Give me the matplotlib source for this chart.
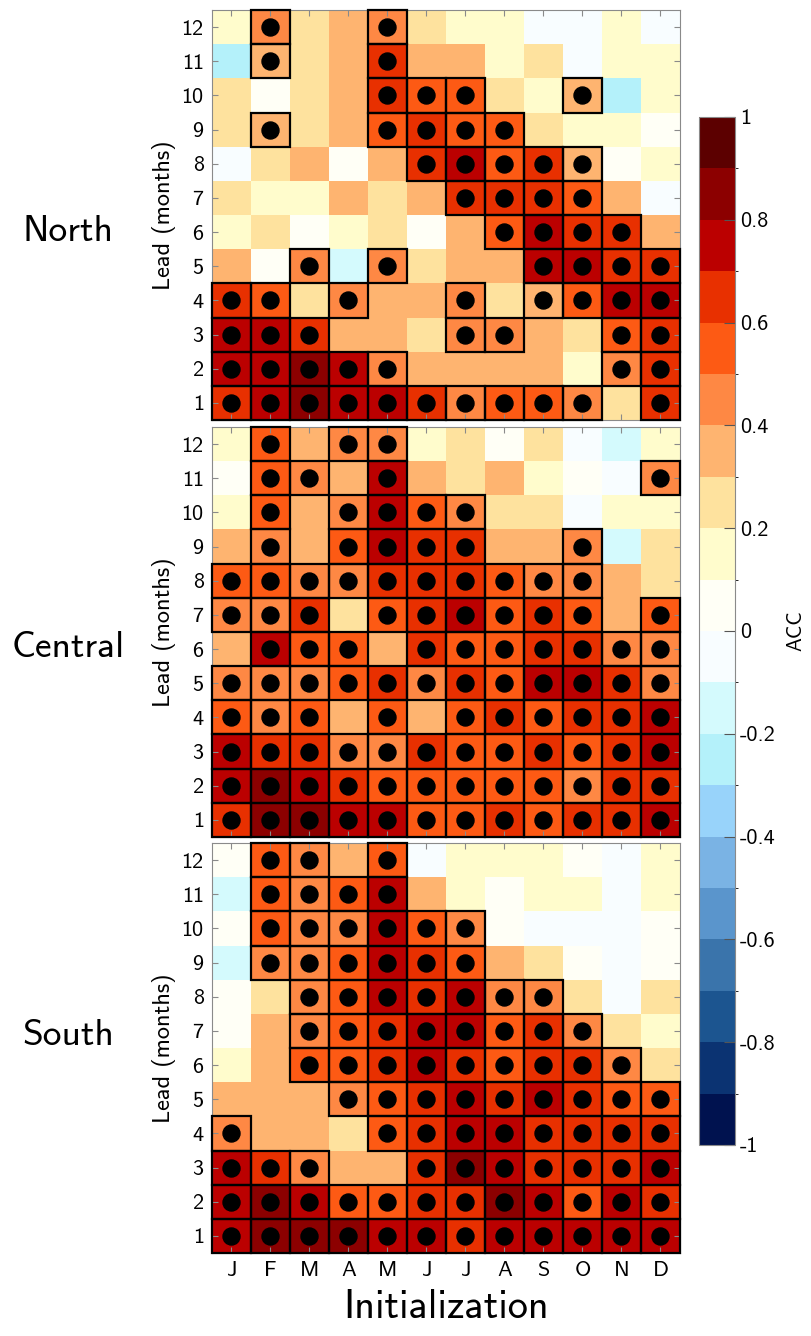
import numpy as np
import matplotlib
matplotlib.use('Agg')
import matplotlib.pyplot as plt
from matplotlib.colors import ListedColormap, BoundaryNorm
from matplotlib.patches import Rectangle

plt.rcParams['font.family'] = ['cmss10', 'DejaVu Sans']
plt.rcParams['axes.unicode_minus'] = False

months = ['J', 'F', 'M', 'A', 'M', 'J', 'J', 'A', 'S', 'O', 'N', 'D']
leads = list(range(1, 13))
regions = ['North', 'Central', 'South']

# ACC values, rows listed from lead 12 (top) down to lead 1
north_acc = [
    [0.15, 0.45, 0.25, 0.35, 0.45, 0.25, 0.15, 0.15, -0.05, -0.05, 0.15, -0.05],
    [-0.25, 0.35, 0.25, 0.35, 0.65, 0.35, 0.35, 0.15, 0.25, -0.05, 0.15, 0.15],
    [0.25, 0.05, 0.25, 0.35, 0.65, 0.55, 0.55, 0.25, 0.15, 0.35, -0.25, 0.15],
    [0.25, 0.35, 0.25, 0.35, 0.55, 0.65, 0.55, 0.55, 0.25, 0.15, 0.15, 0.05],
    [-0.05, 0.25, 0.35, 0.05, 0.35, 0.65, 0.75, 0.55, 0.65, 0.35, 0.05, 0.15],
    [0.25, 0.15, 0.15, 0.35, 0.25, 0.35, 0.65, 0.65, 0.65, 0.55, 0.35, -0.05],
    [0.15, 0.25, 0.05, 0.15, 0.25, 0.05, 0.35, 0.55, 0.75, 0.65, 0.65, 0.35],
    [0.35, 0.05, 0.45, -0.15, 0.45, 0.25, 0.35, 0.35, 0.75, 0.75, 0.65, 0.65],
    [0.65, 0.55, 0.25, 0.45, 0.35, 0.35, 0.45, 0.25, 0.35, 0.55, 0.75, 0.75],
    [0.75, 0.75, 0.65, 0.35, 0.35, 0.25, 0.45, 0.45, 0.35, 0.25, 0.55, 0.65],
    [0.75, 0.75, 0.85, 0.75, 0.45, 0.35, 0.35, 0.35, 0.35, 0.15, 0.45, 0.65],
    [0.65, 0.75, 0.85, 0.75, 0.75, 0.65, 0.45, 0.55, 0.55, 0.45, 0.25, 0.65],
]
north_sig = [
    [0, 1, 0, 0, 1, 0, 0, 0, 0, 0, 0, 0],
    [0, 1, 0, 0, 1, 0, 0, 0, 0, 0, 0, 0],
    [0, 0, 0, 0, 1, 1, 1, 0, 0, 1, 0, 0],
    [0, 1, 0, 0, 1, 1, 1, 1, 0, 0, 0, 0],
    [0, 0, 0, 0, 0, 1, 1, 1, 1, 1, 0, 0],
    [0, 0, 0, 0, 0, 0, 1, 1, 1, 1, 0, 0],
    [0, 0, 0, 0, 0, 0, 0, 1, 1, 1, 1, 0],
    [0, 0, 1, 0, 1, 0, 0, 0, 1, 1, 1, 1],
    [1, 1, 0, 1, 0, 0, 1, 0, 1, 1, 1, 1],
    [1, 1, 1, 0, 0, 0, 1, 1, 0, 0, 1, 1],
    [1, 1, 1, 1, 1, 0, 0, 0, 0, 0, 1, 1],
    [1, 1, 1, 1, 1, 1, 1, 1, 1, 1, 0, 1],
]

central_acc = [
    [0.15, 0.55, 0.35, 0.45, 0.45, 0.15, 0.25, 0.05, 0.25, -0.05, -0.15, 0.15],
    [0.05, 0.55, 0.45, 0.35, 0.75, 0.35, 0.25, 0.35, 0.15, 0.05, -0.05, 0.45],
    [0.15, 0.55, 0.35, 0.45, 0.75, 0.55, 0.45, 0.25, 0.25, -0.05, 0.15, 0.15],
    [0.35, 0.45, 0.35, 0.55, 0.75, 0.65, 0.65, 0.35, 0.35, 0.45, -0.15, 0.25],
    [0.55, 0.55, 0.45, 0.45, 0.65, 0.65, 0.65, 0.55, 0.45, 0.45, 0.35, 0.25],
    [0.45, 0.45, 0.65, 0.25, 0.55, 0.65, 0.75, 0.55, 0.65, 0.55, 0.35, 0.55],
    [0.35, 0.75, 0.55, 0.55, 0.35, 0.65, 0.55, 0.55, 0.65, 0.65, 0.45, 0.45],
    [0.45, 0.45, 0.45, 0.55, 0.65, 0.45, 0.65, 0.55, 0.75, 0.75, 0.65, 0.45],
    [0.55, 0.45, 0.55, 0.35, 0.55, 0.35, 0.55, 0.65, 0.55, 0.65, 0.65, 0.75],
    [0.75, 0.65, 0.65, 0.45, 0.45, 0.65, 0.55, 0.55, 0.65, 0.55, 0.65, 0.75],
    [0.75, 0.85, 0.75, 0.65, 0.55, 0.55, 0.55, 0.55, 0.55, 0.45, 0.65, 0.65],
    [0.65, 0.85, 0.85, 0.75, 0.75, 0.55, 0.55, 0.65, 0.55, 0.65, 0.65, 0.75],
]
central_sig = [
    [0, 1, 0, 1, 1, 0, 0, 0, 0, 0, 0, 0],
    [0, 1, 1, 0, 1, 0, 0, 0, 0, 0, 0, 1],
    [0, 1, 0, 1, 1, 1, 1, 0, 0, 0, 0, 0],
    [0, 1, 0, 1, 1, 1, 1, 0, 0, 1, 0, 0],
    [1, 1, 1, 1, 1, 1, 1, 1, 1, 1, 0, 0],
    [1, 1, 1, 0, 1, 1, 1, 1, 1, 1, 0, 1],
    [0, 1, 1, 1, 0, 1, 1, 1, 1, 1, 1, 1],
    [1, 1, 1, 1, 1, 1, 1, 1, 1, 1, 1, 1],
    [1, 1, 1, 0, 1, 0, 1, 1, 1, 1, 1, 1],
    [1, 1, 1, 1, 1, 1, 1, 1, 1, 1, 1, 1],
    [1, 1, 1, 1, 1, 1, 1, 1, 1, 1, 1, 1],
    [1, 1, 1, 1, 1, 1, 1, 1, 1, 1, 1, 1],
]

south_acc = [
    [0.05, 0.55, 0.45, 0.35, 0.55, -0.05, 0.15, 0.15, 0.15, 0.05, -0.05, 0.15],
    [-0.15, 0.55, 0.45, 0.55, 0.75, 0.35, 0.15, 0.05, 0.15, 0.15, -0.05, 0.15],
    [0.05, 0.55, 0.45, 0.45, 0.75, 0.55, 0.45, 0.05, -0.05, -0.05, -0.05, 0.05],
    [-0.15, 0.45, 0.45, 0.55, 0.75, 0.65, 0.55, 0.35, 0.25, 0.05, -0.05, 0.05],
    [0.05, 0.25, 0.45, 0.55, 0.75, 0.65, 0.75, 0.45, 0.45, 0.25, -0.05, 0.25],
    [0.05, 0.35, 0.45, 0.55, 0.65, 0.75, 0.75, 0.55, 0.65, 0.45, 0.25, 0.15],
    [0.15, 0.35, 0.55, 0.55, 0.65, 0.75, 0.65, 0.55, 0.65, 0.65, 0.45, 0.25],
    [0.35, 0.35, 0.35, 0.45, 0.55, 0.65, 0.75, 0.65, 0.75, 0.65, 0.55, 0.55],
    [0.45, 0.35, 0.35, 0.25, 0.55, 0.65, 0.75, 0.75, 0.65, 0.65, 0.65, 0.65],
    [0.75, 0.65, 0.45, 0.35, 0.35, 0.65, 0.85, 0.75, 0.65, 0.65, 0.65, 0.75],
    [0.75, 0.85, 0.75, 0.55, 0.55, 0.65, 0.65, 0.85, 0.75, 0.55, 0.75, 0.65],
    [0.75, 0.85, 0.85, 0.85, 0.75, 0.75, 0.65, 0.75, 0.75, 0.75, 0.75, 0.75],
]
south_sig = [
    [0, 1, 1, 0, 1, 0, 0, 0, 0, 0, 0, 0],
    [0, 1, 1, 1, 1, 0, 0, 0, 0, 0, 0, 0],
    [0, 1, 1, 1, 1, 1, 1, 0, 0, 0, 0, 0],
    [0, 1, 1, 1, 1, 1, 1, 0, 0, 0, 0, 0],
    [0, 0, 1, 1, 1, 1, 1, 1, 1, 0, 0, 0],
    [0, 0, 1, 1, 1, 1, 1, 1, 1, 1, 0, 0],
    [0, 0, 1, 1, 1, 1, 1, 1, 1, 1, 1, 0],
    [0, 0, 0, 1, 1, 1, 1, 1, 1, 1, 1, 1],
    [1, 0, 0, 0, 1, 1, 1, 1, 1, 1, 1, 1],
    [1, 1, 1, 0, 0, 1, 1, 1, 1, 1, 1, 1],
    [1, 1, 1, 1, 1, 1, 1, 1, 1, 1, 1, 1],
    [1, 1, 1, 1, 1, 1, 1, 1, 1, 1, 1, 1],
]

cbar_ticks = [-1, -0.8, -0.6, -0.4, -0.2, 0, 0.2, 0.4, 0.6, 0.8, 1]
cbar_labels = ['-1', '-0.8', '-0.6', '-0.4', '-0.2', '0', '0.2', '0.4', '0.6', '0.8', '1']

# 20 discrete colours, -1 to 1 in steps of 0.1
colors = ['#00124f', '#0b3372', '#1c5590', '#3a74ab', '#5a95cc',
          '#7ab3e4', '#98d3fa', '#b4f1fa', '#d4fafd', '#f8fdff',
          '#fffff6', '#fffccc', '#fee29e', '#feb470', '#fe8844',
          '#fd5a14', '#e83000', '#bb0000', '#8c0000', '#5c0000']
cmap = ListedColormap(colors)
bounds = np.linspace(-1, 1, 21)
norm = BoundaryNorm(bounds, cmap.N)

fig = plt.figure(figsize=(8.11, 13.36), dpi=100)

panel_bottoms = [0.6856, 0.3735, 0.0621]
panel_label_y = [0.827, 0.515, 0.225]
data = [(north_acc, north_sig), (central_acc, central_sig), (south_acc, south_sig)]

xe = np.arange(13) - 0.5
ye = np.arange(13) + 0.5
grey = '#8a8a8a'

for i, (name, (acc, sig)) in enumerate(zip(regions, data)):
    ax = fig.add_axes([0.2614, panel_bottoms[i], 0.577, 0.3069])
    z = np.array(acc)[::-1]
    s = np.array(sig)[::-1]
    mesh = ax.pcolormesh(xe, ye, z, cmap=cmap, norm=norm)

    # outline and dot every significant cell
    jj, ii = np.nonzero(s)
    for r, c in zip(jj, ii):
        ax.add_patch(Rectangle((c - 0.5, leads[r] - 0.5), 1, 1, fill=False,
                               edgecolor='black', lw=1.6, zorder=3, clip_on=False))
    ax.scatter(ii, np.array(leads)[jj], s=150, c='black', zorder=4)

    ax.set_xlim(-0.5, 11.5)
    ax.set_ylim(0.5, 12.5)
    ax.set_xticks(range(12))
    ax.set_yticks(leads)
    ax.set_yticklabels([str(l) for l in leads], fontsize=16)
    if i == 2:
        ax.set_xticklabels(months, fontsize=16)
        ax.set_xlabel('Initialization', fontsize=29, labelpad=6)
    else:
        ax.set_xticklabels([])
    ax.tick_params(direction='in', top=True, right=True, length=4,
                   color=grey, pad=6)
    for sp in ax.spines.values():
        sp.set_color(grey)
        sp.set_linewidth(0.8)
    ax.set_ylabel('Lead (months)', fontsize=17.5, labelpad=4)
    fig.text(0.084, panel_label_y[i], name, fontsize=27,
             ha='center', va='center')

cax = fig.add_axes([0.862, 0.143, 0.0444, 0.7695])
cb = fig.colorbar(mesh, cax=cax, boundaries=bounds, ticks=cbar_ticks)
cb.ax.set_yticklabels(cbar_labels, fontsize=16)
cb.ax.tick_params(direction='in', length=8, color='#555555', width=0.8)
cb.outline.set_edgecolor(grey)
cb.set_label('ACC', fontsize=15, labelpad=8)

fig.savefig('out.png', dpi=100)
